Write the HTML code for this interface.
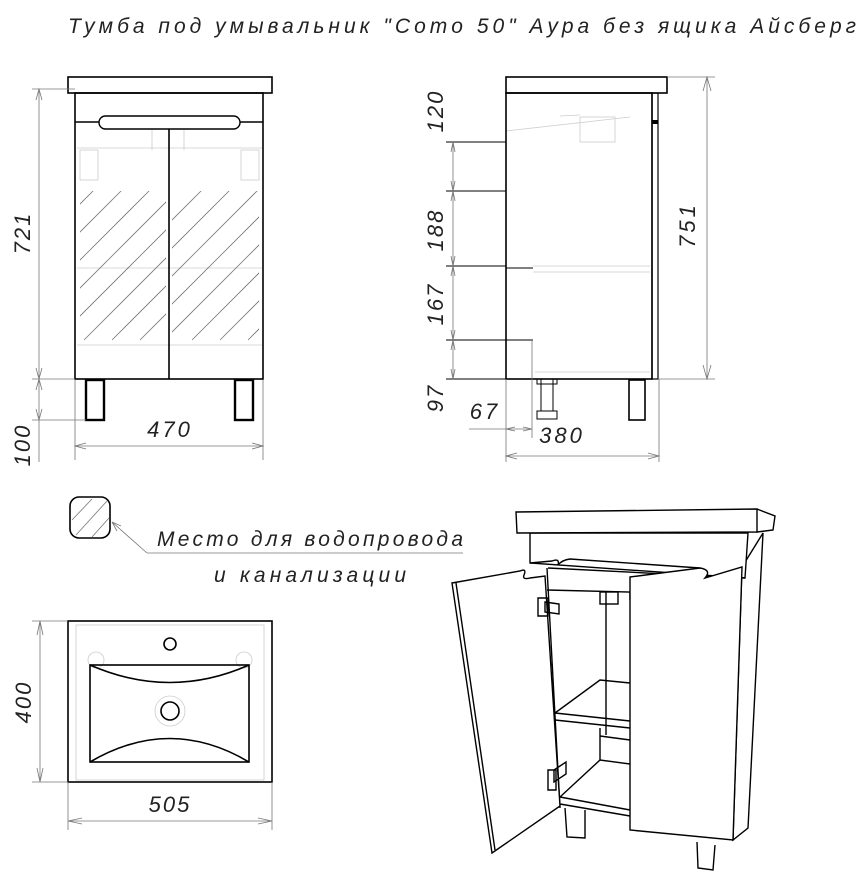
<!DOCTYPE html>
<html><head><meta charset="utf-8"><style>
html,body{margin:0;padding:0;background:#fff}
svg{display:block}
text{font-family:"Liberation Sans Narrow","Liberation Sans","DejaVu Sans",sans-serif;font-style:italic;fill:#222}
.k{stroke:#000;stroke-width:1.6;fill:none}
.t{stroke:#000;stroke-width:1;fill:none}
.g{stroke:#777;stroke-width:0.8;fill:none}
.l{stroke:#ccc;stroke-width:0.8;fill:none}
.w{stroke:#000;stroke-width:1.4;fill:#fff}
</style></head><body>
<svg width="861" height="884" viewBox="0 0 861 884" xmlns="http://www.w3.org/2000/svg">
<defs>
<clipPath id="c1"><rect x="80" y="191" width="86" height="149"/></clipPath>
<clipPath id="c2"><rect x="172" y="191" width="87" height="149"/></clipPath>
</defs>
<text x="68" y="33" font-size="21" textLength="790" lengthAdjust="spacing" letter-spacing="2">Тумба под умывальник "Como 50" Аура без ящика Айсберг</text>

<!-- FRONT VIEW -->
<g>
<line class="l" x1="77" y1="148" x2="262" y2="148"/>
<line class="l" x1="77" y1="268" x2="262" y2="268"/>
<line class="l" x1="77" y1="345" x2="262" y2="345"/>
<line class="l" x1="152" y1="128" x2="152" y2="150"/><line class="l" x1="184" y1="128" x2="184" y2="150"/>
<rect class="l" x="80" y="150" width="18" height="30"/><rect class="l" x="241" y="150" width="18" height="30"/>
<rect class="k" x="68" y="77" width="204" height="16"/>
<rect class="k" x="75" y="93" width="188" height="286"/>
<line class="k" x1="75" y1="122" x2="263" y2="122"/>
<rect class="w" x="99" y="116" width="141" height="13" rx="6.5"/>
<line class="k" x1="169" y1="129" x2="169" y2="379"/>
<g class="g" clip-path="url(#c1)">
<line x1="0" y1="340" x2="150" y2="190"/><line x1="28" y1="340" x2="178" y2="190"/>
<line x1="56" y1="340" x2="206" y2="190"/><line x1="84" y1="340" x2="234" y2="190"/>
<line x1="112" y1="340" x2="262" y2="190"/><line x1="140" y1="340" x2="290" y2="190"/>
<line x1="-28" y1="340" x2="122" y2="190"/><line x1="-56" y1="340" x2="94" y2="190"/>
</g>
<g class="g" clip-path="url(#c2)">
<line x1="80" y1="340" x2="230" y2="190"/><line x1="108" y1="340" x2="258" y2="190"/>
<line x1="136" y1="340" x2="286" y2="190"/><line x1="164" y1="340" x2="314" y2="190"/>
<line x1="192" y1="340" x2="342" y2="190"/><line x1="220" y1="340" x2="370" y2="190"/>
<line x1="248" y1="340" x2="398" y2="190"/><line x1="52" y1="340" x2="202" y2="190"/>
</g>
<rect class="k" x="86" y="380" width="18" height="40" style="stroke-width:2.4"/>
<rect class="k" x="235" y="380" width="18" height="40" style="stroke-width:2.4"/>
<line class="g" x1="32" y1="89" x2="75" y2="89"/>
<line class="g" x1="32" y1="379" x2="75" y2="379"/>
<line class="g" x1="32" y1="420" x2="86" y2="420"/>
<line class="g" x1="39" y1="89" x2="39" y2="462"/>
<path class="g" d="M36 100L39 89L42 100M36 368L39 379L42 368M36 390L39 379L42 390M36 409L39 420L42 409"/>
<text font-size="22" transform="translate(30,233) rotate(-90)" text-anchor="middle" letter-spacing="2">721</text>
<text font-size="22" transform="translate(30,445) rotate(-90)" text-anchor="middle" letter-spacing="2">100</text>
<line class="g" x1="75" y1="380" x2="75" y2="460"/><line class="g" x1="263" y1="380" x2="263" y2="460"/>
<line class="g" x1="75" y1="446" x2="263" y2="446"/>
<path class="g" d="M86 443L75 446L86 449M252 443L263 446L252 449"/>
<text x="170" y="437" font-size="22" text-anchor="middle" letter-spacing="3">470</text>
</g>

<!-- SIDE VIEW -->
<g>
<line class="l" x1="506" y1="131" x2="630" y2="117"/><line class="l" x1="560" y1="116" x2="580" y2="115"/>
<rect class="l" x="580" y="117" width="35" height="25"/>
<line class="l" x1="533" y1="266" x2="650" y2="266"/><line class="l" x1="533" y1="272" x2="650" y2="272"/>
<line class="l" x1="535" y1="372" x2="650" y2="372"/>
<rect class="k" x="506" y="77" width="161" height="16"/>
<rect class="k" x="506" y="93" width="146" height="286"/>
<rect class="k" x="652" y="93" width="6" height="286" style="stroke-width:1.2"/>
<rect x="652" y="120" width="6" height="4" fill="#000"/>
<line class="t" x1="506" y1="268" x2="533" y2="268"/>
<rect x="541" y="379" width="12" height="32" class="t"/><rect x="537" y="411" width="20" height="8" class="t"/><rect x="537" y="379" width="20" height="5" class="t"/>
<rect x="629" y="380" width="16" height="40" class="k"/>
<line class="t" x1="446" y1="142" x2="506" y2="142"/>
<line class="t" x1="446" y1="191" x2="506" y2="191"/>
<line class="t" x1="446" y1="266" x2="506" y2="266"/>
<line class="t" x1="446" y1="340" x2="533" y2="340"/>
<line class="t" x1="446" y1="379" x2="506" y2="379"/>
<line class="g" x1="453" y1="142" x2="453" y2="379"/>
<path class="g" d="M451 152L453 142L455 152M451 181L453 191L455 181M451 201L453 191L455 201M451 256L453 266L455 256M451 276L453 266L455 276M451 330L453 340L455 330M451 350L453 340L455 350M451 369L453 379L455 369"/>
<text font-size="22" transform="translate(443,111) rotate(-90)" text-anchor="middle" letter-spacing="2">120</text>
<text font-size="22" transform="translate(443,230) rotate(-90)" text-anchor="middle" letter-spacing="2">188</text>
<text font-size="22" transform="translate(443,304) rotate(-90)" text-anchor="middle" letter-spacing="2">167</text>
<text font-size="22" transform="translate(443,398) rotate(-90)" text-anchor="middle" letter-spacing="2">97</text>
<line class="g" x1="667" y1="77" x2="715" y2="77"/><line class="g" x1="658" y1="379" x2="715" y2="379"/>
<line class="g" x1="707" y1="77" x2="707" y2="379"/>
<path class="g" d="M703 91L707 77L711 91M703 365L707 379L711 365"/>
<text font-size="22" transform="translate(695,225) rotate(-90)" text-anchor="middle" letter-spacing="3">751</text>
<line class="g" x1="506" y1="379" x2="506" y2="462"/><line class="g" x1="532" y1="340" x2="532" y2="438"/>
<line class="g" x1="659" y1="379" x2="659" y2="462"/>
<line class="g" x1="469" y1="429" x2="532" y2="429"/>
<path class="g" d="M515 427L506 429L515 431M523 427L532 429L523 431"/>
<text x="485" y="419" font-size="22" text-anchor="middle" letter-spacing="3">67</text>
<line class="g" x1="506" y1="456" x2="659" y2="456"/>
<path class="g" d="M517 453L506 456L517 459M648 453L659 456L648 459"/>
<text x="562" y="443" font-size="22" text-anchor="middle" letter-spacing="3">380</text>
</g>

<!-- LEGEND -->
<rect class="k" x="70" y="497" width="40" height="41" rx="9"/>
<g class="g"><line x1="72" y1="520" x2="92" y2="499"/><line x1="76" y1="535" x2="107" y2="501"/><line x1="92" y1="537" x2="109" y2="518"/></g>
<path class="g" d="M147 553L112 522M112 522l5 9M112 522l9 4"/>
<line class="g" x1="147" y1="553" x2="463" y2="553"/>
<text x="157" y="546" font-size="21" textLength="306" lengthAdjust="spacing">Место для водопровода</text>
<text x="214" y="582" font-size="21" textLength="192" lengthAdjust="spacing">и канализации</text>

<!-- PLAN -->
<g>
<rect class="l" x="76" y="625" width="188" height="155"/>
<circle class="l" cx="96" cy="660" r="8"/><circle class="l" cx="244" cy="660" r="8"/>
<circle class="l" cx="170" cy="711" r="15"/>
<rect class="k" x="68" y="621" width="204" height="161"/>
<rect class="k" x="90" y="665" width="159" height="97"/>
<path class="k" d="M90 665Q170 700 249 665M90 762Q170 715 249 762"/>
<circle class="k" cx="170" cy="644" r="6"/>
<circle class="k" cx="170" cy="711" r="9"/>
<line class="g" x1="32" y1="621" x2="68" y2="621"/><line class="g" x1="32" y1="782" x2="68" y2="782"/>
<line class="g" x1="40" y1="621" x2="40" y2="782"/>
<path class="g" d="M37 635L40 621L43 635M37 768L40 782L43 768"/>
<text font-size="22" transform="translate(31,702) rotate(-90)" text-anchor="middle" letter-spacing="2">400</text>
<line class="g" x1="68" y1="782" x2="68" y2="830"/><line class="g" x1="272" y1="782" x2="272" y2="830"/>
<line class="g" x1="68" y1="821" x2="272" y2="821"/>
<path class="g" d="M82 818L68 821L82 824M258 818L272 821L258 824"/>
<text x="170" y="812" font-size="22" text-anchor="middle" letter-spacing="2">505</text>
</g>

<!-- ISO -->
<g class="t" style="stroke-width:1.4" fill="#fff">
<path d="M763 533L748 828L733 840L742 567Z" fill="#fff"/>
<path d="M530 533L530 563L745 578L748 533Z" fill="#fff"/>
<path d="M548 568L745 578"/>
<path d="M547 590L630 592L630 600"/>
<path d="M606 592L606 735"/>
<rect x="600" y="592" width="18" height="12"/>
<path d="M555 713L600 680L630 683M555 713L630 721M555 720L630 728"/>
<path d="M600 728L600 736M600 736L630 740M600 736L600 760"/>
<path d="M560 797L600 760L630 764M560 797L630 810M560 804L630 816"/>
<path d="M565 808L567 837L585 838L585 810"/>
<path d="M547 568L560 808"/>
<path d="M452 583L520 571Q527 568 524 575Q522 580 530 578L545 576L560 806L492 853L452 583Z" fill="#fff"/>
<path d="M456 583L495 850"/>
<path d="M630 577L700 568Q712 570 705 578L742 567L733 840L630 830Z" fill="#fff"/>
<path d="M530 563L552 561Q560 558 558 565Q562 560 570 559L700 568"/>
<path d="M697 842L698 868L713 870L715 845"/>
<path d="M516 512L757 509L757 532L517 533Z" fill="#fff"/>
<path d="M757 509L775 516L773 530L757 532"/>
<path d="M538 598h10v18h-10zM545 602l14 2l0 10l-14 -2z"/>
<path d="M548 770h8v20h-8zM554 770l12 -8l0 12l-12 8z"/>
</g>
</svg>
</body></html>
